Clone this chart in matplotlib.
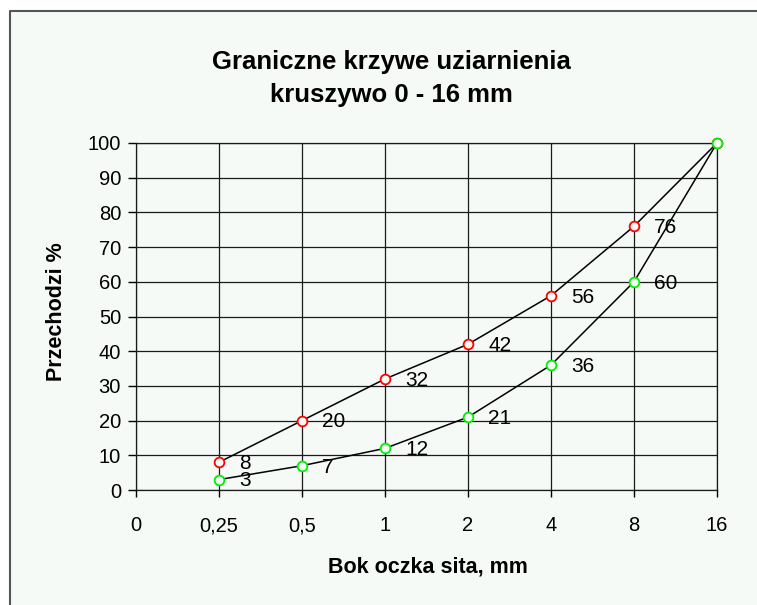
import matplotlib.pyplot as plt
from matplotlib.patches import Rectangle
from matplotlib.lines import Line2D

# --- Data ---
sieve_labels = ['0', '0,25', '0,5', '1', '2', '4', '8', '16']
upper_pos = [1, 2, 3, 4, 5, 6, 7]
upper_vals = [8, 20, 32, 42, 56, 76, 100]
lower_pos = [1, 2, 3, 4, 5, 6, 7]
lower_vals = [3, 7, 12, 21, 36, 60, 100]

bg = '#F6FAF7'
plt.rcParams['font.family'] = ['Liberation Sans', 'DejaVu Sans']

W, H = 757, 605
fig = plt.figure(figsize=(W / 100, H / 100), dpi=100)
fig.patch.set_facecolor('white')

# chart area frame (only left and top edges visible in the crop)
fig.patches.append(Rectangle((9.5 / W, 0), 1, 1 - 11 / H, transform=fig.transFigure,
                             facecolor=bg, edgecolor='none', zorder=-10))
fig.lines.append(Line2D([9.5 / W, 9.5 / W, 1], [0, 1 - 11 / H, 1 - 11 / H],
                        transform=fig.transFigure, color='#555555', linewidth=1.5))

ax = fig.add_axes([136 / W, 1 - 490 / H, (717 - 136) / W, (490 - 143) / H])
ax.set_facecolor(bg)

# --- Curves ---
ax.plot(upper_pos, upper_vals, color='black', linewidth=1.1, zorder=3,
        marker='o', markersize=7, markerfacecolor=bg,
        markeredgecolor='#FF0000', markeredgewidth=1.3, clip_on=False)
ax.plot(lower_pos, lower_vals, color='black', linewidth=1.1, zorder=4,
        marker='o', markersize=7, markerfacecolor=bg,
        markeredgecolor='#00EE00', markeredgewidth=1.3, clip_on=False)

# data labels (skip the 100 at 16 mm)
for xs, ys in [(upper_pos, upper_vals), (lower_pos, lower_vals)]:
    for x, y in zip(xs[:-1], ys[:-1]):
        ax.annotate(f'{y}', (x, y), xytext=(14.5, -1), textcoords='offset points',
                    ha='left', va='center', fontsize=15, color='black', zorder=5)

# --- Formatting ---
ax.set_xlim(0, 7)
ax.set_ylim(0, 100)
ax.set_xticks(range(len(sieve_labels)))
ax.set_xticklabels(sieve_labels)
ax.set_yticks(range(0, 101, 10))
ax.tick_params(axis='x', direction='out', length=5, width=1, pad=14, labelsize=14.5)
ax.tick_params(axis='y', direction='out', length=5.8, width=1, pad=5, labelsize=14.5)
ax.grid(True, color='#1a1a1a', linewidth=0.9)
ax.set_axisbelow(True)
for s in ax.spines.values():
    s.set_color('#1a1a1a')
    s.set_linewidth(0.9)

# axis titles
fig.text(428 / W, 1 - 573 / H, 'Bok oczka sita, mm', ha='center', va='baseline',
         fontsize=15.5, fontweight='bold')
fig.text(57 / W, 1 - 312 / H, 'Przechodzi %', ha='center', va='center',
         rotation=90, fontsize=15.5, fontweight='bold')

# chart title
fig.text(391 / W, 1 - 69 / H, 'Graniczne krzywe uziarnienia', ha='center',
         va='baseline', fontsize=18.5, fontweight='bold')
fig.text(391 / W, 1 - 102 / H, 'kruszywo 0 - 16 mm', ha='center',
         va='baseline', fontsize=18.5, fontweight='bold')

plt.savefig('out.png', dpi=100, facecolor=fig.get_facecolor())
